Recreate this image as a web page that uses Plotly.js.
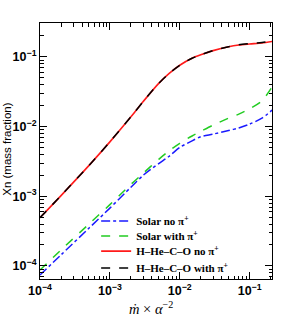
<!DOCTYPE html>
<html>
<head>
<meta charset="utf-8">
<script src="https://cdn.plot.ly/plotly-3.0.1.min.js"></script>
<style>html,body{margin:0;padding:0;background:#fff}#chart{width:300px;height:316px}</style>
</head>
<body>
<div id="chart"></div>
<script>
const mdot = [1e-4, 2e-4, 5e-4, 1e-3, 2e-3, 3e-3, 5e-3, 7e-3, 1e-2, 1.5e-2, 2e-2, 3e-2, 5e-2, 7e-2, 0.1, 0.15, 0.21];
const solarNoPi = [7.41e-5, 1.445e-4, 3.47e-4, 6.76e-4, 1.35e-3, 2.00e-3, 2.95e-3, 3.72e-3, 5.01e-3, 6.24e-3, 7.16e-3, 7.80e-3, 8.77e-3, 9.55e-3, 0.01084, 0.0132, 0.0172];
const solarWithPi = [8.77e-5, 1.70e-4, 3.98e-4, 7.59e-4, 1.48e-3, 2.14e-3, 3.39e-3, 4.47e-3, 5.75e-3, 7.33e-3, 8.51e-3, 0.0105, 0.0132, 0.0151, 0.0180, 0.0234, 0.0372];
const hheNoPi = [4.93e-4, 1.023e-3, 2.75e-3, 6.03e-3, 0.0138, 0.0229, 0.0417, 0.0575, 0.0759, 0.0955, 0.107, 0.123, 0.140, 0.148, 0.153, 0.158, 0.166];
const hheWithPi = [4.93e-4, 1.023e-3, 2.75e-3, 6.03e-3, 0.0138, 0.0229, 0.0417, 0.0575, 0.0759, 0.0955, 0.107, 0.123, 0.140, 0.149, 0.155, 0.161, 0.170];
const seriesNames = ["Solar no π<sup>+</sup>", "Solar with π<sup>+</sup>", "H–He–C–O no π<sup>+</sup>", "H–He–C–O with π<sup>+</sup>"];
const xTickVals = [1e-4, 1e-3, 1e-2, 1e-1];
const xTickText = ["10<sup>−4</sup>", "10<sup>−3</sup>", "10<sup>−2</sup>", "10<sup>−1</sup>"];
const yTickVals = [1e-4, 1e-3, 1e-2, 1e-1];
const yTickText = ["10<sup>−4</sup>", "10<sup>−3</sup>", "10<sup>−2</sup>", "10<sup>−1</sup>"];

function minorTicks(lo, hi) {
  const out = [];
  for (let e = lo; e <= hi; e++) for (let m = 2; m <= 9; m++) out.push(m * Math.pow(10, e));
  return out;
}

const traces = [
  {x: mdot, y: solarNoPi, name: seriesNames[0], legend: 'legend', mode: 'lines', line: {color: '#1a1aff', width: 1.5, dash: 'dashdot', shape: 'spline', smoothing: 0.8}},
  {x: mdot, y: solarWithPi, name: seriesNames[1], legend: 'legend2', mode: 'lines', line: {color: '#22cc22', width: 1.5, dash: 'dash', shape: 'spline', smoothing: 0.8}},
  {x: mdot, y: hheNoPi, name: seriesNames[2], legend: 'legend3', mode: 'lines', line: {color: '#ff1a1a', width: 1.6, shape: 'spline', smoothing: 0.8}},
  {x: mdot, y: hheWithPi, name: seriesNames[3], legend: 'legend4', mode: 'lines', line: {color: '#000000', width: 1.5, dash: 'dash', shape: 'spline', smoothing: 0.8}}
];

const tickFont = {family: 'Liberation Sans, Arial, sans-serif', size: 12.5, color: '#000', weight: 'bold'};
const legFont = {family: 'Liberation Serif, Times New Roman, serif', size: 11, color: '#000', weight: 'bold'};
function leg(yc) {
  return {x: 0.242, y: yc, xanchor: 'left', yanchor: 'middle', bgcolor: 'rgba(0,0,0,0)', borderwidth: 0, font: legFont};
}

const layout = {
  width: 300, height: 316,
  margin: {l: 40, r: 28, t: 23, b: 37},
  paper_bgcolor: '#fff', plot_bgcolor: '#fff',
  showlegend: true,
  legend: leg(0.2266),
  legend2: leg(0.168),
  legend3: leg(0.109),
  legend4: leg(0.043),
  xaxis: {
    type: 'log', range: [-4, -0.68],
    tickvals: xTickVals, ticktext: xTickText,
    ticks: 'inside', ticklen: 7, tickwidth: 1, tickcolor: '#000',
    minor: {tickvals: minorTicks(-4, -1), ticks: 'inside', ticklen: 3.5, tickwidth: 1, tickcolor: '#000'},
    showline: true, linecolor: '#000', linewidth: 1, mirror: 'ticks',
    showgrid: false, zeroline: false,
    tickfont: tickFont
  },
  yaxis: {
    type: 'log', range: [-4.187, -0.514],
    tickvals: yTickVals, ticktext: yTickText,
    ticks: 'inside', ticklen: 7, tickwidth: 1, tickcolor: '#000',
    minor: {tickvals: minorTicks(-5, -1), ticks: 'inside', ticklen: 3.5, tickwidth: 1, tickcolor: '#000'},
    showline: true, linecolor: '#000', linewidth: 1, mirror: 'ticks',
    showgrid: false, zeroline: false,
    tickfont: tickFont
  },
  annotations: [
    {text: 'Xn (mass fraction)', xref: 'paper', yref: 'paper', x: -0.142, y: 0.505, xanchor: 'center', yanchor: 'middle', textangle: -90,
     showarrow: false, font: {family: 'Liberation Sans, Arial, sans-serif', size: 11.5, color: '#000'}},
    {text: '<i>ṁ</i> × <i>α</i><sup>−2</sup>', xref: 'paper', yref: 'paper', x: 0.478, y: -0.114, xanchor: 'center', yanchor: 'middle',
     showarrow: false, font: {family: 'Liberation Serif, Times New Roman, serif', size: 14.5, color: '#000'}}
  ]
};

Plotly.newPlot('chart', traces, layout, {displayModeBar: false, staticPlot: true});
</script>
</body>
</html>
